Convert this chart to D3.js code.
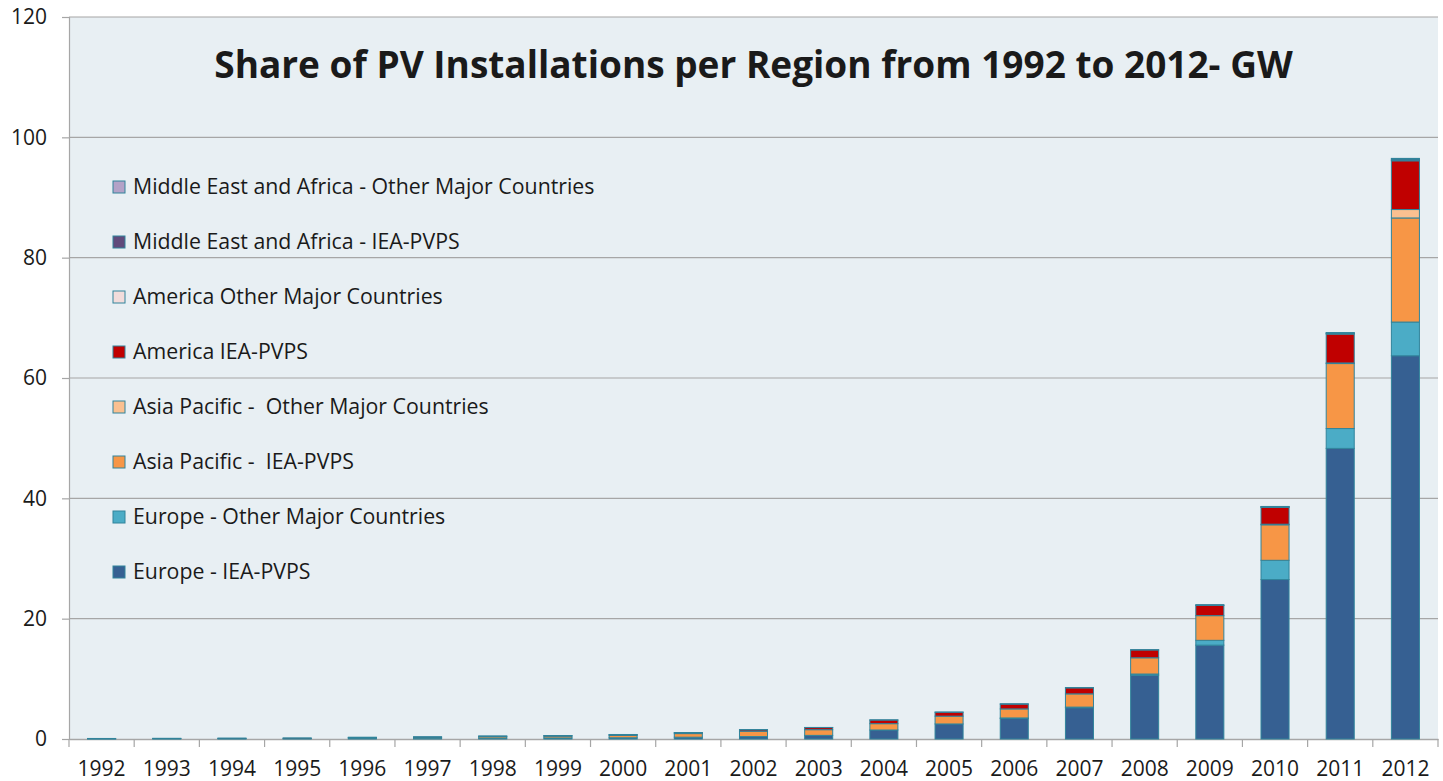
<!DOCTYPE html>
<html>
<head>
<meta charset="utf-8">
<script src="https://cdn.jsdelivr.net/npm/d3@7"></script>
<style>
  body { margin: 0; background: #fff; }
  text { font-family: "Open Sans", Lato, sans-serif; fill: #1a1a1a; white-space: pre; }
</style>
</head>
<body>
<div id="chart"></div>
<script>
const years = ["1992","1993","1994","1995","1996","1997","1998","1999","2000","2001","2002",
               "2003","2004","2005","2006","2007","2008","2009","2010","2011","2012"];

// GW
const europeIEA    = [0.04,0.05,0.06,0.07,0.10,0.12,0.15,0.17,0.20,0.30,0.40,0.60,1.50,2.50,3.40,5.20,10.6,15.6,26.5,48.3,63.7];
const europeOther  = [0,0,0,0,0,0,0,0,0,0,0,0,0,0,0.1,0.1,0.2,0.8,3.2,3.3,5.6];
const asiaIEA      = [0.03,0.04,0.05,0.06,0.12,0.16,0.25,0.30,0.40,0.60,0.90,0.95,1.05,1.30,1.50,2.20,2.70,4.10,5.90,10.8,17.3];
const asiaOther    = [0,0,0,0,0,0,0,0,0,0,0,0,0,0,0,0,0,0,0.1,0.1,1.4];
const americaIEA   = [0.02,0.02,0.03,0.04,0.05,0.06,0.08,0.10,0.14,0.17,0.24,0.35,0.60,0.65,0.80,1.00,1.30,1.70,2.80,4.80,8.10];
const americaOther = [0,0,0,0,0,0,0,0,0,0,0,0,0,0,0,0,0,0.05,0.05,0.1,0.1];
const meIEA        = [0,0,0,0,0.01,0.01,0.01,0.01,0.01,0.01,0.02,0.02,0.03,0.03,0.05,0.05,0.05,0.07,0.08,0.1,0.2];
const meOther      = [0,0,0,0,0,0,0,0,0,0,0,0,0,0,0,0,0,0,0.02,0.05,0.1];

const seriesNames = [
  "Europe - IEA-PVPS",
  "Europe - Other Major Countries",
  "Asia Pacific -  IEA-PVPS",
  "Asia Pacific -  Other Major Countries",
  "America IEA-PVPS",
  "America Other Major Countries",
  "Middle East and Africa - IEA-PVPS",
  "Middle East and Africa - Other Major Countries"
];
const seriesValues = [europeIEA, europeOther, asiaIEA, asiaOther, americaIEA, americaOther, meIEA, meOther];
const colors = ["#366092","#4BACC6","#F79646","#FAC090","#C00000","#F2DCDB","#604A7B","#B3A2C7"];
const yTicks = [0,20,40,60,80,100,120];

const width = 1443, height = 781;
const plot = {left: 69, top: 17, right: 1438, bottom: 739};

const rows = years.map((y, i) => {
  const r = {year: y};
  seriesNames.forEach((s, k) => r[s] = seriesValues[k][i]);
  return r;
});
const stacked = d3.stack().keys(seriesNames)(rows);

const svg = d3.select("#chart").append("svg")
  .attr("width", width)
  .attr("height", height);

svg.append("rect")
  .attr("x", plot.left).attr("y", plot.top)
  .attr("width", plot.right - plot.left).attr("height", plot.bottom - plot.top)
  .attr("fill", "#E8EFF3");

const x = d3.scaleBand()
  .domain(years)
  .range([plot.left, plot.right])
  .paddingInner(0.57)
  .paddingOuter(0.285);

const y = d3.scaleLinear()
  .domain([0, 120])
  .range([plot.bottom, plot.top]);

// gridlines
svg.append("g")
  .selectAll("line")
  .data(yTicks.slice(1))
  .join("line")
  .attr("x1", plot.left).attr("x2", plot.right)
  .attr("y1", d => y(d)).attr("y2", d => y(d))
  .attr("stroke", "#a6a6a6")
  .attr("stroke-width", 1.2);

// y axis
const yAxis = svg.append("g")
  .attr("transform", `translate(${plot.left},0)`)
  .call(d3.axisLeft(y).tickValues(yTicks).tickSize(7).tickPadding(15));
yAxis.select(".domain").attr("stroke", "#a6a6a6").attr("stroke-width", 1.2);
yAxis.selectAll(".tick line").attr("stroke", "#a6a6a6").attr("stroke-width", 1.2);
yAxis.selectAll(".tick text")
  .attr("font-size", 21)
  .attr("font-family", "'Open Sans', sans-serif")
  .attr("fill", "#1a1a1a");

// x axis
const xAxis = svg.append("g")
  .attr("transform", `translate(0,${plot.bottom})`)
  .call(d3.axisBottom(x).tickSize(0).tickPadding(22));
xAxis.select(".domain").attr("stroke", "#a6a6a6").attr("stroke-width", 1.5);
xAxis.selectAll(".tick text")
  .attr("font-size", 21)
  .attr("font-family", "'Open Sans', sans-serif")
  .attr("fill", "#1a1a1a");

const step = x.step();
const boundaries = years.map(d => x(d) - (step - x.bandwidth()) / 2);
boundaries.push(plot.right);
svg.append("g")
  .selectAll("line")
  .data(boundaries)
  .join("line")
  .attr("x1", d => d).attr("x2", d => d)
  .attr("y1", plot.bottom).attr("y2", plot.bottom + 8)
  .attr("stroke", "#a6a6a6")
  .attr("stroke-width", 1.2);

// bars
svg.append("g")
  .selectAll("g")
  .data(stacked)
  .join("g")
  .attr("fill", (d, i) => colors[i])
  .selectAll("rect")
  .data(d => d)
  .join("rect")
  .attr("x", d => x(d.data.year))
  .attr("width", x.bandwidth())
  .attr("y", d => y(d[1]))
  .attr("height", d => y(d[0]) - y(d[1]))
  .attr("stroke", "#31849B")
  .attr("stroke-width", d => (d[1] - d[0]) > 0 ? 1 : 0);

// title
svg.append("text")
  .attr("x", (plot.left + plot.right) / 2)
  .attr("y", 78)
  .attr("text-anchor", "middle")
  .attr("font-size", 37)
  .attr("font-weight", "bold")
  .attr("fill", "#000")
  .text("Share of PV Installations per Region from 1992 to 2012- GW");

// legend, top entry is the last series
const legend = svg.append("g")
  .selectAll("g")
  .data(seriesNames.map((n, i) => ({name: n, color: colors[i]})).reverse())
  .join("g")
  .attr("transform", (d, i) => `translate(113,${187 + i * 55})`);

legend.append("rect")
  .attr("x", 0).attr("y", -6)
  .attr("width", 12).attr("height", 12)
  .attr("fill", d => d.color)
  .attr("stroke", "#31849B")
  .attr("stroke-width", 1);

legend.append("text")
  .attr("x", 20)
  .attr("y", 7)
  .attr("font-size", 21.3)
  .text(d => d.name);
</script>
</body>
</html>
